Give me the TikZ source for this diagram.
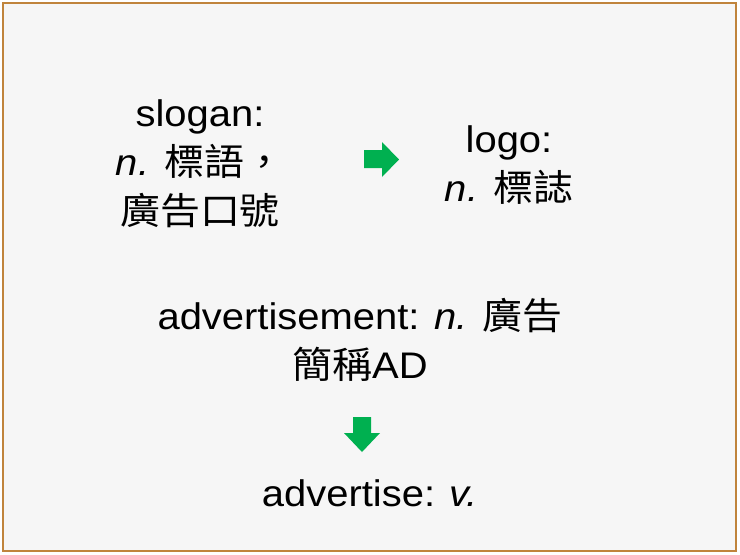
\documentclass[tikz,border=0pt]{standalone}
\usepackage{fontspec}
\setmainfont{Liberation Sans}[FakeStretch=1.08]
\newfontfamily\cjk{Noto Sans CJK TC}[FakeStretch=1.08]
\definecolor{myframe}{RGB}{192,132,60}
\definecolor{mypaper}{RGB}{246,246,246}
\definecolor{mygreen}{RGB}{0,176,80}
\tikzstyle{word}=[inner sep=0pt,align=center,anchor=base,font=\fontsize{37}{49}\selectfont]
\tikzstyle{blockarrow}=[fill=mygreen]
\begin{document}
\begin{tikzpicture}[x=1pt,y=-1pt]
\fill [white] (0,0) rectangle (740,555);
\draw [myframe,line width=2.5pt,fill=mypaper] (3,3) rectangle (736,551);
% base of a node = baseline of its last line
\node [word] (slogan) at (200,224) {slogan:\\\textit{n.} {\cjk 標語，}\\{\cjk 廣告口號}};
\node [word] (logo) at (509,201) {logo:\\\textit{n.} {\cjk 標誌}};
\node [word] (noun) at (360,378) {advertisement: \textit{n.} {\cjk 廣告}\\{\cjk 簡稱}AD};
\node [word] (verb) at (370,506) {advertise: \textit{v.}};
\fill [blockarrow] (364,150) -- (382,150) -- (382,142) -- (399,159.5) -- (382,177) -- (382,168) -- (364,168) -- cycle;
\fill [blockarrow] (353,417) -- (371,417) -- (371,433) -- (380,433) -- (362,452) -- (344,433) -- (353,433) -- cycle;
\end{tikzpicture}
\end{document}
